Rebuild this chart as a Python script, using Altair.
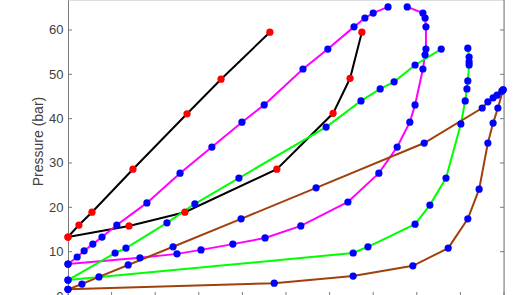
import altair as alt
import pandas as pd

# ---- data (x in axis units 0..10, pressure in bar) ----
black1_x = [0.0, 0.25, 0.55, 1.49, 2.73, 3.51, 4.63]
black1_p = [13.3, 16.0, 18.9, 28.6, 41.1, 48.9, 59.5]

black2_x = [0.0, 1.40, 2.68, 4.79, 6.08, 6.47, 6.74]
black2_p = [13.3, 15.8, 18.9, 28.6, 41.2, 49.1, 59.5]

mag_up_x = [0.0, 0.21, 0.37, 0.57, 0.78, 1.12, 1.81, 2.57, 3.30, 3.99, 4.50, 5.39, 5.96, 6.56, 6.81, 7.00, 7.34]
mag_up_p = [7.2, 8.8, 10.2, 11.7, 13.3, 16.0, 21.0, 27.7, 33.6, 39.2, 43.1, 51.2, 55.7, 60.7, 62.7, 63.8, 65.2]

mag_dn_x = [7.78, 8.14, 8.19, 8.21, 8.21, 8.19, 8.14, 7.96, 7.84, 7.55, 7.13, 6.42, 5.34, 4.52, 3.78, 3.05, 2.50, 1.65, 0.0]
mag_dn_p = [65.2, 63.8, 62.7, 60.7, 55.7, 54.4, 51.2, 43.1, 39.2, 33.6, 27.7, 21.2, 15.8, 13.1, 11.7, 10.4, 9.5, 8.6, 7.2]

grn_up_x = [0.0, 1.08, 1.33, 2.27, 2.91, 3.92, 5.92, 6.72, 7.16, 7.48, 7.96, 8.56]
grn_up_p = [3.6, 9.7, 10.8, 16.5, 20.8, 26.6, 38.1, 44.0, 46.7, 48.3, 52.1, 55.7]

grn_dn_x = [9.17, 9.20, 9.20, 9.20, 9.17, 9.15, 9.11, 9.01, 8.67, 8.30, 7.96, 6.88, 6.54, 0.0]
grn_dn_p = [55.9, 53.9, 52.8, 52.1, 48.5, 46.7, 44.0, 38.8, 26.6, 20.5, 16.2, 11.1, 9.7, 3.6]

brn_up_x = [0.0, 0.32, 0.71, 1.38, 2.41, 3.97, 5.69, 8.17, 9.50, 9.63, 9.75, 9.84, 9.95, 9.98]
brn_up_p = [1.5, 2.7, 4.3, 7.0, 11.1, 17.4, 24.4, 34.5, 42.4, 43.8, 44.7, 45.3, 46.2, 46.5]

brn_dn_x = [9.98, 9.86, 9.75, 9.63, 9.43, 9.17, 8.72, 7.91, 6.54, 4.73, 0.0]
brn_dn_p = [46.5, 42.4, 39.0, 34.5, 24.1, 17.4, 10.8, 6.8, 4.5, 2.9, 1.5]

y_ticks = [0, 10, 20, 30, 40, 50, 60]
x_ticks = [0, 1, 2, 3, 4, 5, 6, 7, 8, 9, 10]

segments = [
    ("black1", "black", "red", black1_x, black1_p),
    ("black2", "black", "red", black2_x, black2_p),
    ("mag_up", "magenta", "blue", mag_up_x, mag_up_p),
    ("mag_dn", "magenta", "blue", mag_dn_x, mag_dn_p),
    ("grn_up", "green", "blue", grn_up_x, grn_up_p),
    ("grn_dn", "green", "blue", grn_dn_x, grn_dn_p),
    ("brn_up", "brown", "blue", brn_up_x, brn_up_p),
    ("brn_dn", "brown", "blue", brn_dn_x, brn_dn_p),
]

rows = []
for seg, lc, mc, xs, ps in segments:
    for i, (xv, pv) in enumerate(zip(xs, ps)):
        rows.append({"seg": seg, "lc": lc, "mc": mc, "i": i, "x": xv, "p": pv})
df = pd.DataFrame(rows)

W, H = 436, 296
xs = alt.Scale(domain=[0, 10], nice=False, zero=False)
ys = alt.Scale(domain=[0, 66.76], nice=False, zero=False)

FONT = "Liberation Sans"
AX = "#7a7a7a"

base = alt.Chart(df)

lines = base.mark_line(strokeWidth=2).encode(
    x=alt.X("x:Q", scale=xs, axis=alt.Axis(labels=False, ticks=False, grid=False,
                                           domain=False, title=None)),
    y=alt.Y("p:Q", scale=ys, axis=alt.Axis(values=y_ticks, grid=False, ticks=False, tickSize=0,
                                           labelPadding=5, labelFontSize=13, labelFont=FONT,
                                           labelColor="#404040", domainColor=AX, domainWidth=1,
                                           title="Pressure (bar)", titleFont=FONT, titleFontSize=14,
                                           titleFontWeight="normal", titleColor="#404040",
                                           titleX=-25.5, titleY=141, titleAngle=270,
                                           titleAlign="center", titleBaseline="alphabetic")),
    color=alt.Color("lc:N", scale=alt.Scale(domain=["black", "magenta", "green", "brown"],
                                            range=["#000000", "#ff00ff", "#00ff00", "#a0410d"]),
                    legend=None),
    detail="seg:N",
    order="i:Q",
)

points = base.mark_point(filled=True, size=52, opacity=1, strokeWidth=0).encode(
    x=alt.X("x:Q", scale=xs),
    y=alt.Y("p:Q", scale=ys),
    fill=alt.Fill("mc:N", scale=alt.Scale(domain=["red", "blue"], range=["#ff0000", "#0000ff"]),
                  legend=None),
)

ydf = pd.DataFrame({"t": y_ticks})
xdf = pd.DataFrame({"t": x_ticks})

left_ticks = alt.Chart(ydf).mark_rule(color=AX, strokeWidth=1).encode(
    y=alt.Y("t:Q", scale=ys), x=alt.value(0), x2=alt.value(4))
right_ticks = alt.Chart(ydf).mark_rule(color=AX, strokeWidth=1).encode(
    y=alt.Y("t:Q", scale=ys), x=alt.value(W - 4), x2=alt.value(W))
bottom_ticks = alt.Chart(xdf).mark_rule(color=AX, strokeWidth=1).encode(
    x=alt.X("t:Q", scale=xs), y=alt.value(H - 4), y2=alt.value(H))
right_border = alt.Chart(ydf.head(1)).mark_rule(color=AX, strokeWidth=1).encode(
    x=alt.value(W), y=alt.value(0), y2=alt.value(H))

chart = alt.layer(left_ticks, right_ticks, bottom_ticks, right_border, lines, points).properties(
    width=W, height=H,
    autosize=alt.AutoSizeParams(type="none"),
    padding={"left": 68, "top": 0, "right": 18, "bottom": 0},
).configure_view(stroke=None).configure(background="white")

chart.save("out.html", embed_options={"renderer": "svg", "actions": False})
